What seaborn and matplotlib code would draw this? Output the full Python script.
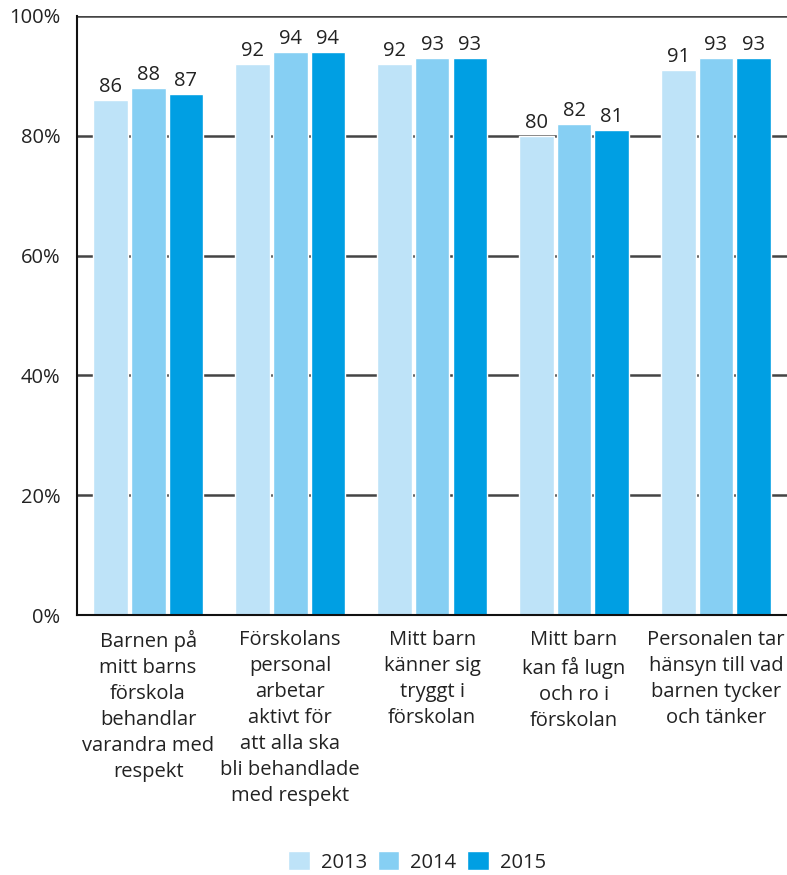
import pandas as pd
import matplotlib
matplotlib.use("Agg")
import matplotlib.pyplot as plt
import seaborn as sns
from matplotlib.ticker import FixedLocator, PercentFormatter

categories = [
    "Barnen på\nmitt barns\nförskola\nbehandlar\nvarandra med\nrespekt",
    "Förskolans\npersonal\narbetar\naktivt för\natt alla ska\nbli behandlade\nmed respekt",
    "Mitt barn\nkänner sig\ntryggt i\nförskolan",
    "Mitt barn\nkan få lugn\noch ro i\nförskolan",
    "Personalen tar\nhänsyn till vad\nbarnen tycker\noch tänker",
]
years = ["2013", "2014", "2015"]
values_2013 = [86, 92, 92, 80, 91]
values_2014 = [88, 94, 93, 82, 93]
values_2015 = [87, 94, 93, 81, 93]
colors = ["#bee3f8", "#86cff3", "#009fe3"]

rows = []
for year, vals in zip(years, [values_2013, values_2014, values_2015]):
    for cat, v in zip(categories, vals):
        rows.append({"cat": cat, "year": year, "value": v})
df = pd.DataFrame(rows)

sns.set_style("white")
plt.rcParams["font.family"] = ["Open Sans", "DejaVu Sans"]
text_color = "#222222"
fs = 14.5

fig = plt.figure(figsize=(7.87, 8.75), dpi=100)
ax = fig.add_axes([0.098, 0.297, 0.902, 0.685])

sns.barplot(
    data=df, x="cat", y="value", hue="year", palette=colors,
    width=0.8, gap=0.08, ax=ax, saturation=1, legend=True,
)

for container in ax.containers:
    ax.bar_label(container, fmt="%d", padding=2, fontsize=fs, color=text_color)

ax.set_ylim(0, 100)
ax.set_xlim(-0.5, 4.5)
ax.set_yticks([0, 20, 40, 60, 80, 100])
ax.yaxis.set_major_formatter(PercentFormatter(decimals=0))
ax.grid(axis="y", color="#444444", linewidth=1.8)
ax.set_axisbelow(True)

ax.tick_params(axis="y", length=0, pad=12, labelsize=fs, labelcolor=text_color)
ax.tick_params(axis="x", which="major", length=0, pad=11, labelsize=fs,
               labelcolor=text_color)
for lbl in ax.get_xticklabels():
    lbl.set_linespacing(1.4)
ax.xaxis.set_minor_locator(FixedLocator([0.5, 1.5, 2.5, 3.5]))
ax.tick_params(axis="x", which="minor", direction="in", length=11,
               width=1.5, color="#333333")

ax.spines["right"].set_visible(False)
ax.spines["top"].set_visible(False)
ax.spines["left"].set_color("#111111")
ax.spines["left"].set_linewidth(1.5)
ax.spines["bottom"].set_color("#111111")
ax.spines["bottom"].set_linewidth(1.5)

ax.set_xlabel("")
ax.set_ylabel("")

handles, labels = ax.get_legend_handles_labels()
ax.get_legend().remove()
fig.legend(
    handles, labels, loc="lower center", bbox_to_anchor=(0.53, -0.018),
    ncol=3, frameon=False, fontsize=fs, handlelength=1.05, handleheight=1.05,
    columnspacing=0.55, handletextpad=0.55, labelcolor=text_color,
)

fig.savefig("out.png", dpi=100)
